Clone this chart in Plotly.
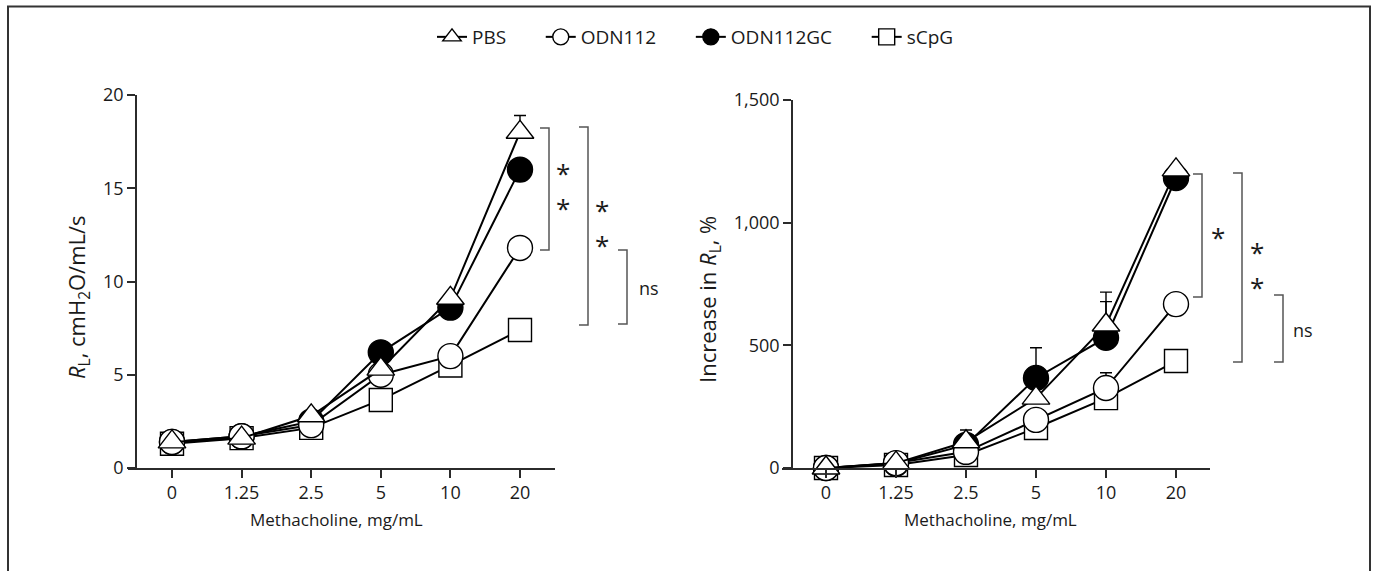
import plotly.graph_objects as go

W, H = 1375, 571

# ---------------- data ----------------
doses = ["0", "1.25", "2.5", "5", "10", "20"]
series_names = ["PBS", "ODN112", "ODN112GC", "sCpG"]

# Left panel: RL, cmH2O/mL/s
pbs_rl = [1.4, 1.6, 2.8, 5.3, 9.1, 18.0]
odn112_rl = [1.4, 1.7, 2.3, 5.0, 6.0, 11.8]
odn112gc_rl = [1.4, 1.7, 2.5, 6.2, 8.6, 16.0]
scpg_rl = [1.3, 1.6, 2.15, 3.65, 5.5, 7.4]
pbs_rl_err = [None, None, None, None, None, 0.9]
odn112_rl_err = [None] * 6
odn112gc_rl_err = [None] * 6
scpg_rl_err = [None] * 6

# Right panel: Increase in RL, %
pbs_inc = [0, 20, 107, 285, 583, 1215]
odn112_inc = [0, 20, 66, 196, 326, 668]
odn112gc_inc = [0, 18, 94, 367, 531, 1182]
scpg_inc = [0, 12, 53, 163, 285, 436]
pbs_inc_err = [None, None, 48, None, 95, None]
odn112_inc_err = [None, None, None, None, 62, None]
odn112gc_inc_err = [None, None, None, 123, 186, None]
scpg_inc_err = [None] * 6

left_tick_vals = [0, 5, 10, 15, 20]
right_tick_vals = [0, 500, 1000, 1500]

# ---------------- style ----------------
FONT = "Open Sans, Noto Sans, sans-serif"
INK = "#1a1a1a"
AX = "#2b2b2b"
xpos = list(range(len(doses)))

styles = {
    "PBS": dict(symbol="triangle-up", size=24, color="white", rank=1),
    "ODN112": dict(symbol="circle", size=25, color="white", rank=2),
    "ODN112GC": dict(symbol="circle", size=25, color="black", rank=3),
    "sCpG": dict(symbol="square", size=23, color="white", rank=4),
}
left_data = {"PBS": (pbs_rl, pbs_rl_err), "ODN112": (odn112_rl, odn112_rl_err),
             "ODN112GC": (odn112gc_rl, odn112gc_rl_err), "sCpG": (scpg_rl, scpg_rl_err)}
right_data = {"PBS": (pbs_inc, pbs_inc_err), "ODN112": (odn112_inc, odn112_inc_err),
              "ODN112GC": (odn112gc_inc, odn112gc_inc_err), "sCpG": (scpg_inc, scpg_inc_err)}

pad = "\u00a0" * 6
fig = go.Figure()
draw_order = ["sCpG", "ODN112GC", "ODN112", "PBS"]
for panel, data, xa, ya in [(0, left_data, "x", "y"), (1, right_data, "x2", "y2")]:
    for name in draw_order:
        st = styles[name]
        vals, err = data[name]
        fig.add_trace(go.Scatter(
            x=xpos, y=vals, xaxis=xa, yaxis=ya,
            mode="lines+markers",
            name=name + pad,
            legendrank=st["rank"],
            showlegend=(panel == 0),
            line=dict(color="black", width=2),
            marker=dict(symbol=st["symbol"], size=st["size"], color=st["color"],
                        line=dict(color="black", width=1.4)),
            error_y=dict(type="data", symmetric=False, array=err,
                         arrayminus=[0 if e is not None else None for e in err],
                         color="black", thickness=1.4, width=6),
            cliponaxis=False,
        ))

def px(x):
    return x / W

def py(y):
    return 1 - y / H

# axis geometry (pixels)
L_x0, L_x1, L_t0, L_t5 = 128, 555, 172, 520
R_x0, R_x1, R_t0, R_t5 = 782, 1210, 826, 1176
Y_bot = 468
L_ytop, R_ytop = 95, 100

def xrange(x0, x1, t0, t5):
    step = (t5 - t0) / 5
    return [-(t0 - x0) / step, 5 + (x1 - t5) / step]

axis_common = dict(showline=True, linecolor=AX, linewidth=1.5, ticks="outside",
                   ticklen=8, tickwidth=1.5, tickcolor=AX, showgrid=False, zeroline=False,
                   automargin=False,
                   tickfont=dict(family=FONT, size=18, color=INK))

fig.update_layout(
    width=W, height=H,
    margin=dict(l=0, r=0, t=0, b=0, autoexpand=False),
    paper_bgcolor="white", plot_bgcolor="white",
    font=dict(family=FONT, size=18, color=INK),
    xaxis=dict(domain=[px(L_x0), px(L_x1)], range=xrange(L_x0, L_x1, L_t0, L_t5),
               tickvals=xpos, ticktext=doses, anchor="y", **axis_common),
    yaxis=dict(domain=[py(Y_bot), py(L_ytop)], range=[0, 20], tickvals=left_tick_vals,
               anchor="free", position=px(136), **axis_common),
    xaxis2=dict(domain=[px(R_x0), px(R_x1)], range=xrange(R_x0, R_x1, R_t0, R_t5),
                tickvals=xpos, ticktext=doses, anchor="y2", **axis_common),
    yaxis2=dict(domain=[py(Y_bot), py(R_ytop)], range=[0, 1500], tickvals=right_tick_vals,
                tickformat=",d", anchor="free", position=px(792), **axis_common),
    showlegend=True,
    legend=dict(orientation="h", x=px(432), xanchor="left", y=py(37), yanchor="middle",
                font=dict(family=FONT, size=19, color=INK), traceorder="normal",
                bgcolor="rgba(0,0,0,0)"),
)

shapes = []
# outer frame
shapes.append(dict(type="rect", xref="paper", yref="paper", x0=px(8), x1=px(1370),
                   y0=-0.05, y1=py(6.5), line=dict(color="#333", width=2)))

def bracket(x, y0, y1, arm=9):
    return dict(type="path", xref="paper", yref="paper",
                path=f"M {px(x-arm)},{py(y0)} L {px(x)},{py(y0)} L {px(x)},{py(y1)} L {px(x-arm)},{py(y1)}",
                line=dict(color="#555", width=1.5))

# left brackets
shapes += [bracket(549, 128, 250), bracket(588, 127, 325), bracket(627, 250, 324)]
# right brackets
shapes += [bracket(1202, 174, 297), bracket(1242, 173, 362), bracket(1283, 295, 362)]
fig.update_layout(shapes=shapes)

ann = []
def txt(x, y, s, size=18, xanchor="center", angle=0):
    ann.append(dict(x=px(x), y=py(y), xref="paper", yref="paper", text=s, showarrow=False,
                    xanchor=xanchor, yanchor="middle", textangle=angle,
                    font=dict(family=FONT, size=size, color=INK)))

STAR_OFF = 5
for (x, y) in [(563, 168), (563, 203), (602, 205), (602, 240),
               (1218, 232), (1257, 247), (1257, 282)]:
    txt(x, y + STAR_OFF, "*", size=26)
txt(637, 288, "ns", xanchor="left")
txt(1291, 330, "ns", xanchor="left")

txt(336, 519, "Methacholine, mg/mL", size=17)
txt(990, 519, "Methacholine, mg/mL", size=17)
txt(78, 297, "<i>R</i><sub>L</sub>, cmH<sub>2</sub>O/mL/s", size=22, angle=-90)
txt(709, 300, "Increase in <i>R</i><sub>L</sub>, %", size=22, angle=-90)
fig.update_layout(annotations=ann)

fig.write_html("out.html", config={"displayModeBar": False},
               post_script="document.body.style.margin='0px';document.documentElement.style.overflow='hidden';document.body.style.overflow='hidden';")
